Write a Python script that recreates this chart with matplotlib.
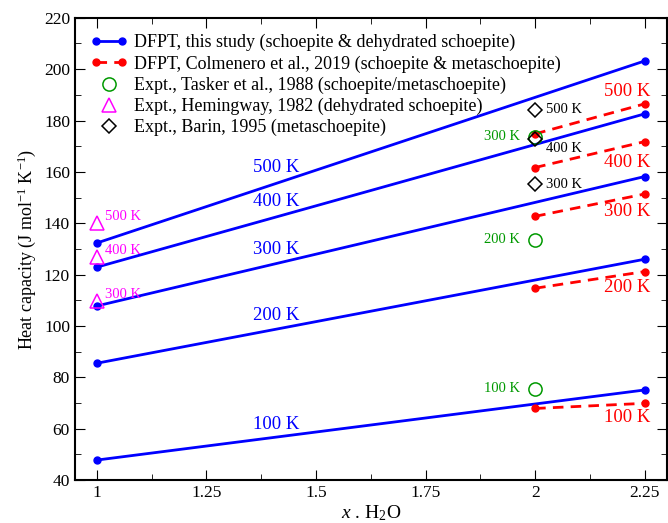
import numpy as np
import matplotlib
matplotlib.use("Agg")
import matplotlib.pyplot as plt
from matplotlib.ticker import MultipleLocator
from matplotlib.legend_handler import HandlerLine2D

plt.rcParams["font.family"] = ["Liberation Serif", "DejaVu Serif"]
plt.rcParams["mathtext.fontset"] = "custom"
plt.rcParams["mathtext.rm"] = "Liberation Serif"
plt.rcParams["mathtext.it"] = "Liberation Serif:italic"

temps = ["100 K", "200 K", "300 K", "400 K", "500 K"]

# this study, x = 1 and x = 2.25
x_this = [1.0, 2.25]
cp_this = [[47.8, 75.1], [85.5, 126.0], [107.8, 158.2], [122.9, 182.6], [132.3, 203.2]]

# Colmenero et al. 2019, x = 2 and x = 2.25
x_colm = [2.0, 2.25]
cp_colm = [[67.9, 69.9], [114.7, 121.2], [142.7, 151.4], [161.7, 171.8], [174.8, 186.5]]

# Tasker 1988 at x = 2 (100, 200, 300 K)
tasker_cp = [75.6, 133.5, 173.7]
tasker_lbl = ["100 K", "200 K", "300 K"]
# Hemingway 1982 at x = 1 (300, 400, 500 K)
heming_cp = [109.7, 127.0, 140.0]
heming_lbl = ["300 K", "400 K", "500 K"]
# Barin 1995 at x = 2 (300, 400, 500 K)
barin_cp = [155.2, 172.7, 184.1]
barin_lbl = ["300 K", "400 K", "500 K"]

blue_lbl_y = [61.8, 103.9, 129.6, 148.3, 161.9]
red_lbl_y = [64.2, 114.8, 144.4, 163.5, 191.2]

fig = plt.figure(figsize=(6.68, 5.23), dpi=100)
ax = fig.add_axes([0.112, 0.082, 0.886, 0.884])

blue = "#0000ff"
red = "#ff0000"
green = "#009900"
mag = "#ff00ff"

for i, cp in enumerate(cp_this):
    ax.plot(x_this, cp, "-o", color=blue, lw=2, ms=5,
            label="DFPT, this study (schoepite & dehydrated schoepite)" if i == 0 else None)
    ax.text(1.41, blue_lbl_y[i], temps[i], color=blue, fontsize=13.5, ha="center", va="center")

for i, cp in enumerate(cp_colm):
    ax.plot(x_colm, cp, "--o", color=red, lw=2, ms=5, dashes=(3.8, 2.6),
            label="DFPT, Colmenero et al., 2019 (schoepite & metaschoepite)" if i == 0 else None)
    ax.text(2.21, red_lbl_y[i], temps[i], color=red, fontsize=13.5, ha="center", va="center")

h_tasker, = ax.plot([2.0] * 3, tasker_cp, "o", mfc="none", mec=green, ms=9.5, mew=1.1, ls="none",
                    label="Expt., Tasker et al., 1988 (schoepite/metaschoepite)")
for v, t in zip(tasker_cp, tasker_lbl):
    ax.text(1.965, v, t, color=green, fontsize=10.5, ha="right", va="center")

h_hem, = ax.plot([1.0] * 3, heming_cp, "^", mfc="none", mec=mag, ms=9.5, mew=1.1, ls="none",
                 label="Expt., Hemingway, 1982 (dehydrated schoepite)")
for v, t in zip(heming_cp, heming_lbl):
    ax.text(1.018, v + 2.5, t, color=mag, fontsize=10.5, ha="left", va="center")

h_barin, = ax.plot([2.0] * 3, barin_cp, "D", mfc="none", mec="black", ms=7.5, mew=1.1, ls="none",
                   label="Expt., Barin, 1995 (metaschoepite)")
for v, t in zip(barin_cp, barin_lbl):
    dy = -3.4 if t == "400 K" else 0
    ax.text(2.025, v + dy, t, color="black", fontsize=10.5, ha="left", va="center")

ax.set_xlim(0.95, 2.3)
ax.set_ylim(40, 220)
ax.xaxis.set_major_locator(MultipleLocator(0.25))
ax.xaxis.set_minor_locator(MultipleLocator(0.125))
ax.yaxis.set_major_locator(MultipleLocator(20))
ax.yaxis.set_minor_locator(MultipleLocator(10))
ax.set_xticks([1, 1.25, 1.5, 1.75, 2, 2.25])
ax.set_xticklabels(["1", "1.25", "1.5", "1.75", "2", "2.25"])
ax.tick_params(which="both", direction="in", top=True, right=True, labelsize=12.5)
ax.tick_params(which="major", length=7)
ax.tick_params(which="minor", length=4)
for s in ax.spines.values():
    s.set_linewidth(1.5)

ax.set_xlabel("$x$ . H$_2$O", fontsize=14, labelpad=2)
ax.set_ylabel("Heat capacity (J mol$^{-1}$ K$^{-1}$)", fontsize=13)

one = HandlerLine2D(numpoints=1)
ax.legend(loc="upper left", fontsize=13, frameon=False, numpoints=2,
          handlelength=2.0, borderaxespad=0.5, labelspacing=0.22, handletextpad=0.4,
          handler_map={h_tasker: one, h_hem: one, h_barin: one})

fig.savefig("out.png", dpi=100)
